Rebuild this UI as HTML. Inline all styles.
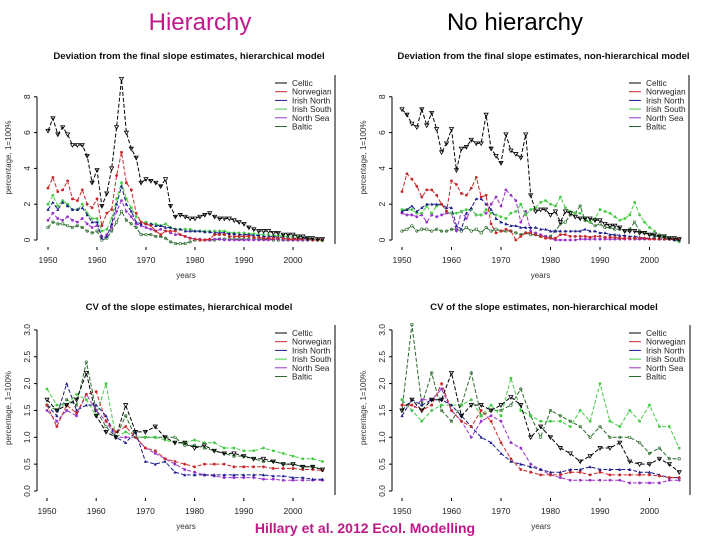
<!DOCTYPE html>
<html><head><meta charset="utf-8"><style>
body{margin:0;background:#fff;width:720px;height:540px;overflow:hidden;font-family:"Liberation Sans",sans-serif}
svg{position:absolute;left:0;top:0}
</style></head><body>
<svg id="c" width="720" height="540" viewBox="0 0 720 540" xmlns="http://www.w3.org/2000/svg">
<text x="200" y="30" font-size="24" fill="#c0188a" text-anchor="middle">Hierarchy</text>
<text x="515" y="30" font-size="24" fill="#000" text-anchor="middle">No hierarchy</text>
<text x="365" y="533" font-size="14" font-weight="bold" fill="#c0188a" text-anchor="middle">Hillary et al. 2012 Ecol. Modelling</text>
</svg>
<script>
const seriesNames = ["Celtic","Norwegian","Irish North","Irish South","North Sea","Baltic"];
const colors = ["#000","#c8282a","#1a1a8a","#44cc44","#9933cc","#2a6a2a"];
const yearsAnnual = []; for (let y=1950;y<=2006;y++) yearsAnnual.push(y);
const yearsStep2 = []; for (let y=1950;y<=2006;y+=2) yearsStep2.push(y);
const xTicks = [1950,1960,1970,1980,1990,2000];
const devTicks = [0,2,4,6,8];
const cvTicks = [0,0.5,1,1.5,2,2.5,3];
const cvTickLabels = ["0.0","0.5","1.0","1.5","2.0","2.5","3.0"];

const p1Celtic=[6.1,6.8,5.9,6.3,5.9,5.3,5.3,5.3,4.7,3.2,3.9,1.9,2.6,4.0,6.3,9.0,6.0,5.1,4.6,3.2,3.4,3.3,3.2,3.0,3.4,1.9,1.3,1.4,1.3,1.2,1.2,1.3,1.4,1.5,1.3,1.2,1.2,1.2,1.1,1.0,0.9,0.7,0.6,0.5,0.5,0.5,0.4,0.4,0.3,0.3,0.3,0.2,0.2,0.1,0.1,0.05,0.05];
const p1Norwegian=[2.9,3.5,2.7,2.8,3.3,2.3,2.2,2.8,2.0,1.8,2.3,0.8,1.5,1.7,3.6,4.9,3.2,2.8,1.5,1.0,0.9,0.8,0.5,0.3,0.5,0.5,0.5,0.3,0.2,0.1,0.05,0.0,0.0,0.05,0.3,0.3,0.3,0.2,0.2,0.2,0.2,0.2,0.15,0.15,0.1,0.1,0.1,0.1,0.1,0.05,0.05,0.05,0.05,0.05,0.0,0.0,0.0];
const p1IrishNorth=[1.7,2.1,1.7,2.1,1.9,1.7,1.7,1.8,1.4,1.0,1.0,0.1,0.2,0.9,2.0,3.0,2.0,1.6,1.0,0.9,0.9,0.9,0.8,0.8,0.7,0.7,0.6,0.6,0.5,0.5,0.5,0.5,0.45,0.45,0.4,0.4,0.4,0.35,0.35,0.3,0.3,0.3,0.25,0.25,0.2,0.2,0.2,0.15,0.15,0.1,0.1,0.1,0.1,0.05,0.05,0.05,0.05];
const p1IrishSouth=[2.0,2.5,1.9,2.2,2.0,1.7,1.7,2.0,1.5,1.2,1.2,0.5,0.6,1.2,2.3,3.2,2.3,1.8,1.3,1.0,1.0,0.9,0.9,0.8,0.9,0.7,0.6,0.6,0.6,0.6,0.5,0.5,0.5,0.5,0.5,0.5,0.5,0.4,0.4,0.4,0.4,0.35,0.35,0.3,0.3,0.3,0.25,0.25,0.2,0.2,0.15,0.15,0.1,0.1,0.05,0.0,-0.05];
const p1NorthSea=[1.1,1.5,1.2,1.1,1.3,1.1,1.0,1.2,0.9,0.7,0.8,0.2,0.3,0.7,1.6,2.2,1.6,1.3,0.9,0.8,0.7,0.6,0.5,0.6,0.5,0.4,0.3,0.3,0.2,0.1,0.05,0.05,0,0,0.05,0.05,0,0,0,0,0,0,0,0,0,0,0.05,0.05,0,0,0,0,0,0,0,0,0];
const p1Baltic=[0.7,1.0,0.9,0.9,0.8,0.7,0.8,0.7,0.5,0.4,0.5,0.0,0.1,0.5,1.0,1.6,1.1,0.9,0.7,0.3,0.3,0.3,0.2,0.2,0.1,-0.1,-0.2,-0.2,-0.2,-0.1,0,0,0,0,0,0.05,0.05,0.05,0.05,0.05,0.05,0.05,0.05,0.05,0.05,0.05,0,0,0,0,0,0,0,0,0,0,0];

const p2Celtic=[7.3,7.0,6.5,6.3,7.3,6.4,7.1,6.2,4.9,5.4,6.2,3.9,5.1,5.2,5.6,5.4,5.4,7.0,5.1,4.7,4.3,5.9,5.0,4.8,4.6,5.9,2.5,1.6,1.7,1.7,1.4,1.6,1.0,1.6,1.5,1.3,1.2,1.2,1.2,1.1,1.1,0.9,0.8,0.8,0.7,0.5,0.5,0.5,0.4,0.4,0.3,0.3,0.2,0.2,0.1,0.1,0.05];
const p2Norwegian=[2.7,3.7,3.4,3.0,2.4,2.8,2.8,2.5,2.0,1.6,3.3,3.1,2.6,2.5,2.9,3.5,2.4,2.5,0.9,0.4,0.5,0.6,0.5,0.0,0.2,0.4,0.4,0.3,0.2,0.1,0.1,0.1,0.3,0.3,0.2,0.2,0.2,0.2,0.15,0.2,0.2,0.15,0.15,0.15,0.1,0.1,0.1,0.1,0.1,0.1,0.05,0.05,0.05,0.05,0.05,0.05,0.05];
const p2IrishNorth=[1.6,1.7,1.9,1.6,1.8,2.0,2.0,2.0,2.0,1.8,1.8,0.8,0.6,1.5,1.8,2.3,2.3,2.0,1.7,1.2,1.0,0.9,0.8,0.8,0.7,0.7,0.7,0.7,0.6,0.6,0.5,0.5,0.5,0.5,0.5,0.5,0.5,0.6,0.5,0.5,0.4,0.4,0.3,0.3,0.25,0.25,0.2,0.2,0.15,0.1,0.1,0.1,0.05,0.05,0.05,0.0,0.0];
const p2IrishSouth=[1.7,1.7,1.7,1.5,1.5,1.9,1.5,1.9,2.0,1.6,1.5,1.5,1.6,1.7,1.7,1.4,1.4,1.7,1.5,1.4,1.3,1.2,1.5,1.6,2.0,1.4,1.7,1.8,2.1,2.2,2.0,1.9,2.4,1.8,1.6,1.5,1.5,1.2,1.0,1.2,1.7,1.6,1.5,1.3,1.1,1.2,1.4,2.1,1.4,1.0,0.7,0.5,0.3,0.2,0.1,0.0,-0.1];
const p2NorthSea=[1.5,1.4,1.4,1.3,1.4,1.0,1.4,1.3,1.4,1.5,1.5,0.5,1.6,1.2,1.7,1.4,1.4,1.5,2.0,2.4,1.9,2.8,2.5,2.2,1.0,1.6,0.5,0.4,0.3,0.2,0.1,0,0,0,0,0,0.05,0.05,0.05,0.05,0.05,0.05,0.05,0.05,0.05,0.05,0.05,0.05,0.05,0.05,0.05,0.05,0.05,0.05,0.05,0.05,0.05];
const p2Baltic=[0.5,0.6,0.8,0.5,0.6,0.6,0.5,0.6,0.5,0.5,0.6,0.6,0.5,0.7,0.5,0.6,0.4,0.7,0.5,0.6,0.5,0.5,0.5,0.4,0.3,0.4,0.3,0.3,0.2,0.2,0.2,0.5,0.9,1.0,1.4,1.5,1.9,1.1,1.0,0.8,0.9,0.7,0.7,0.6,0.6,0.5,0.6,1.0,0.5,0.4,0.3,0.2,0.2,0.1,0.1,0.05,0.0];

const p3Celtic=[1.7,1.5,1.6,1.7,2.2,1.4,1.1,1.0,1.6,1.1,1.1,1.2,1.0,0.9,0.9,0.8,0.85,0.75,0.7,0.7,0.65,0.6,0.6,0.55,0.5,0.5,0.45,0.45,0.4];
const p3Norwegian=[1.6,1.2,1.6,1.45,1.8,1.85,1.3,1.1,1.2,1.0,0.8,0.75,0.6,0.55,0.5,0.45,0.5,0.5,0.5,0.45,0.45,0.45,0.45,0.42,0.42,0.42,0.4,0.4,0.38];
const p3IrishNorth=[1.6,1.4,2.0,1.5,1.6,1.6,1.4,1.0,0.9,1.1,0.55,0.5,0.55,0.35,0.3,0.3,0.3,0.3,0.3,0.3,0.3,0.3,0.3,0.28,0.28,0.25,0.25,0.22,0.22];
const p3IrishSouth=[1.9,1.6,1.6,1.8,1.7,1.4,2.0,1.0,1.1,1.0,1.0,1.0,0.95,0.9,0.9,0.95,0.9,0.9,0.8,0.8,0.75,0.75,0.8,0.75,0.7,0.65,0.6,0.6,0.55];
const p3NorthSea=[1.5,1.3,1.5,1.4,1.8,1.5,1.3,1.0,1.0,1.0,0.8,0.7,0.6,0.5,0.4,0.35,0.3,0.28,0.25,0.25,0.25,0.25,0.22,0.22,0.2,0.2,0.2,0.2,0.2];
const p3Baltic=[1.6,1.5,1.7,1.6,2.4,1.5,1.2,1.0,1.4,1.0,1.0,1.0,1.0,1.0,0.85,0.85,0.8,0.75,0.7,0.65,0.65,0.6,0.55,0.55,0.5,0.5,0.45,0.45,0.4];

const p4Celtic=[1.5,1.7,1.5,1.7,1.7,2.2,1.4,1.6,1.6,1.5,1.6,1.75,1.6,1.0,1.2,1.0,0.8,0.7,0.55,0.65,0.8,0.8,0.9,0.55,0.5,0.5,0.6,0.5,0.35];
const p4Norwegian=[1.6,1.6,1.5,1.6,2.0,1.5,1.3,1.2,1.5,1.3,0.9,0.6,0.4,0.35,0.3,0.3,0.3,0.35,0.35,0.3,0.35,0.3,0.3,0.3,0.3,0.3,0.28,0.25,0.25];
const p4IrishNorth=[1.4,1.7,1.6,1.7,1.7,1.6,1.4,1.2,1.0,0.9,0.7,0.55,0.5,0.45,0.4,0.35,0.35,0.4,0.4,0.45,0.4,0.4,0.4,0.4,0.35,0.35,0.3,0.25,0.25];
const p4IrishSouth=[1.7,1.5,1.3,1.5,1.6,1.6,1.6,1.7,1.4,1.6,1.4,2.1,1.5,1.4,1.3,1.3,1.3,1.2,1.5,1.3,2.0,1.3,1.2,1.5,1.3,1.6,1.2,1.2,0.8];
const p4NorthSea=[1.7,1.5,1.7,1.7,1.9,1.5,1.3,1.0,1.3,1.4,1.3,0.9,0.8,0.5,0.4,0.3,0.25,0.2,0.2,0.2,0.2,0.2,0.2,0.15,0.15,0.15,0.15,0.2,0.2];
const p4Baltic=[1.5,3.1,1.6,2.2,1.5,1.3,1.6,2.2,1.4,1.5,1.5,1.6,1.9,1.4,1.0,1.5,1.4,1.3,1.2,1.0,1.2,1.0,1.0,1.0,0.9,0.7,0.8,0.6,0.6];

const NS="http://www.w3.org/2000/svg";
const svg=document.getElementById('c');
function mk(tag,attrs,parent){const e=document.createElementNS(NS,tag);for(const k in attrs)e.setAttribute(k,attrs[k]);(parent||svg).appendChild(e);return e;}

function panel(o){
  const g=mk('g',{});
  
  
  const sx=v=>o.x0+(v-1950)*o.pxYear;
  const sy=v=>o.yZero-v*o.pxUnit;
  const t=mk('text',{x:(o.axisX+o.rightX)/2+3,y:o.titleY,'font-size':o.titleSize,'font-weight':'bold','text-anchor':'middle',fill:'#111'},g);
  t.textContent=o.title;
  
  
  mk('line',{x1:o.axisX,x2:o.axisX,y1:sy(o.yTicks[o.yTicks.length-1]),y2:sy(o.yTicks[0]),stroke:'#000','stroke-width':1},g);
  mk('line',{x1:o.rightX,x2:o.rightX,y1:o.topY,y2:o.yZero+4,stroke:'#000','stroke-width':1},g);
  o.yTicks.forEach((v,i)=>{
    mk('line',{x1:o.axisX-3,x2:o.axisX,y1:sy(v),y2:sy(v),stroke:'#000'},g);
    const tx=mk('text',{x:0,y:0,'font-size':8.5,'text-anchor':'middle',fill:'#222',transform:`translate(${o.axisX-7},${sy(v)}) rotate(-90)`},g);
    tx.textContent=o.yLabels[i];
    
    
  });
  xTicks.forEach(v=>{
    mk('line',{x1:sx(v),x2:sx(v),y1:o.yZero+7,y2:o.yZero+10,stroke:'#000'},g);
    const tx=mk('text',{x:sx(v),y:o.yZero+23,'font-size':8.5,'text-anchor':'middle',fill:'#222'},g);
    tx.textContent=v;
    
    
  });
  const xl=mk('text',{x:(o.axisX+o.rightX)/2,y:o.yZero+38,'font-size':8,'text-anchor':'middle',fill:'#333'},g);
  xl.textContent='years';
  
  
  const yl=mk('text',{x:0,y:0,'font-size':8,'text-anchor':'middle',fill:'#333',transform:`translate(${o.axisX-26},${(o.topY+o.yZero)/2}) rotate(-90)`},g);
  yl.textContent=o.yTitle;
  
  
  [5,4,3,2,1,0].forEach(si=>{
    const vals=o.series[si];
    const pts=vals.map((v,i)=>sx(o.years[i]).toFixed(1)+','+sy(v).toFixed(1)).join(' ');
    const pl=mk('polyline',{points:pts,fill:'none',stroke:colors[si],'stroke-width':1,'stroke-dasharray':'4,2'},g);
    
    
    vals.forEach((v,i)=>{
      const cx=sx(o.years[i]),cy=sy(v);
      let m;
      if(si==0) m=mk('path',{d:`M${cx-2},${cy-1.5}L${cx+2},${cy-1.5}L${cx},${cy+2}Z`,fill:'none',stroke:'#000','stroke-width':0.8},g);
      else if(si==2) m=mk('path',{d:`M${cx-1.6},${cy+1.3}L${cx+1.6},${cy+1.3}L${cx},${cy-1.6}Z`,fill:colors[si]},g);
      else if(si==5) m=mk('circle',{cx:cx,cy:cy,r:1.3,fill:'none',stroke:colors[si],'stroke-width':0.6},g);
      else m=mk('circle',{cx:cx,cy:cy,r:1.4,fill:colors[si]},g);
      
      
    });
  });
  const lg=mk('g',{},g);
  
  
  seriesNames.forEach((n,i)=>{
    const ly=o.legY+i*8.7;
    mk('line',{x1:o.legX,x2:o.legX+12,y1:ly,y2:ly,stroke:colors[i],'stroke-width':1},lg);
    const lt=mk('text',{x:o.legX+17,y:ly+3,'font-size':8.3,fill:'#222'},lg);
    lt.textContent=n;
    
    
  });
}

const devLabels=["0","2","4","6","8"];
panel({name:'panel-deviation-hierarchical',title:'Deviation from the final slope estimates, hierarchical model',titleY:59,titleSize:9.6,
  x0:48,pxYear:4.9,yZero:240,pxUnit:17.9,axisX:37,rightX:335,topY:75,yTicks:devTicks,yLabels:devLabels,yTitle:'percentage, 1=100%',
  years:yearsAnnual,series:[p1Celtic,p1Norwegian,p1IrishNorth,p1IrishSouth,p1NorthSea,p1Baltic],legX:275,legY:83});
panel({name:'panel-deviation-nonhierarchical',title:'Deviation from the final slope estimates, non-hierarchical model',titleY:59,titleSize:9.6,
  x0:402,pxYear:4.95,yZero:240,pxUnit:17.9,axisX:392,rightX:689,topY:75,yTicks:devTicks,yLabels:devLabels,yTitle:'percentage, 1=100%',
  years:yearsAnnual,series:[p2Celtic,p2Norwegian,p2IrishNorth,p2IrishSouth,p2NorthSea,p2Baltic],legX:629,legY:83});
panel({name:'panel-cv-hierarchical',title:'CV of the slope estimates, hierarchical model',titleY:310,titleSize:9.6,
  x0:47,pxYear:4.92,yZero:491,pxUnit:53.7,axisX:37,rightX:335,topY:325,yTicks:cvTicks,yLabels:cvTickLabels,yTitle:'percentage, 1=100%',
  years:yearsStep2,series:[p3Celtic,p3Norwegian,p3IrishNorth,p3IrishSouth,p3NorthSea,p3Baltic],legX:275,legY:333});
panel({name:'panel-cv-nonhierarchical',title:'CV of the slope estimates, non-hierarchical model',titleY:310,titleSize:9.6,
  x0:402,pxYear:4.95,yZero:491,pxUnit:53.7,axisX:392,rightX:690,topY:325,yTicks:cvTicks,yLabels:cvTickLabels,yTitle:'percentage, 1=100%',
  years:yearsStep2,series:[p4Celtic,p4Norwegian,p4IrishNorth,p4IrishSouth,p4NorthSea,p4Baltic],legX:629,legY:333});
</script>
</body></html>
